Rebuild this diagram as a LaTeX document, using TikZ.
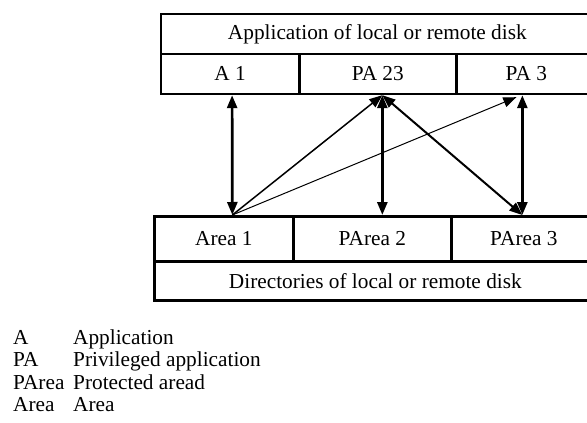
\documentclass[tikz,border=0pt]{standalone}
\usepackage{fontspec}
\setmainfont{Liberation Serif}
\usetikzlibrary{arrows.meta,calc}

\begin{document}
\begin{tikzpicture}[x=1pt,y=-1pt,
  cell/.style={draw,line width=2.7pt,anchor=north west,inner sep=0pt,
    minimum height=40pt,font=\fontsize{21.3}{25}\selectfont},
  leg/.style={anchor=base west,inner sep=0pt,font=\fontsize{21.3}{25}\selectfont},
  dbl/.style={{Triangle[length=13pt,width=10pt]}-{Triangle[length=13pt,width=10pt]},line width=2.7pt},
  arr/.style={-{Triangle[length=13pt,width=10pt]},line width=1.5pt}
]
\useasboundingbox (0,0) rectangle (587,423);

% application side
\node[cell,minimum width=433pt] (App) at (159.5,12.5) {Application of local or remote disk};
\node[cell,minimum width=138.5pt] (A1) at (159.5,52.5) {A 1};
\node[cell,minimum width=157pt] (PA23) at (298,52.5) {PA 23};
\node[cell,minimum width=140pt] (PA3) at (455,52.5) {PA 3};

% disk side
\node[cell,minimum width=139pt,minimum height=45pt] (Area1) at (153,215) {Area 1};
\node[cell,minimum width=158pt,minimum height=45pt] (PArea2) at (292,215) {PArea 2};
\node[cell,minimum width=145pt,minimum height=45pt] (PArea3) at (450,215) {PArea 3};
\node[cell,minimum width=442pt,minimum height=39pt] (Dir) at (153,260) {Directories of local or remote disk};

% ends of the connectors
\coordinate (a1) at ([xshift=2pt]A1.south);
\coordinate (pa23) at ([xshift=4.5pt]PA23.south);
\coordinate (pa3) at ([xshift=-4pt]PA3.south);
\coordinate (pa3l) at ([xshift=-10pt,yshift=-2pt]PA3.south);
\coordinate (ar1) at ([xshift=8.5pt]Area1.north);
\coordinate (par2) at ([xshift=10pt]PArea2.north);
\coordinate (par3) at ([xshift=-1.5pt]PArea3.north);

\draw[dbl] (ar1) -- (a1);
\draw[dbl] (par2) -- (pa23);
\draw[dbl] (par3) -- (pa3);
\draw[arr] (ar1) -- (pa23);
\draw[arr,line width=1pt] (ar1) -- (pa3l);
\draw[dbl,line width=2pt] (par3) -- (pa23);

% legend
\node[leg] (kA) at (13,344) {A};
\node[leg] (dA) at (73,344) {Application};
\node[leg] (kPA) at (13,366.5) {PA};
\node[leg] (dPA) at (73,366.5) {Privileged application};
\node[leg] (kPArea) at (13,389) {PArea};
\node[leg] (dPArea) at (73,389) {Protected aread};
\node[leg] (kArea) at (13,411.5) {Area};
\node[leg] (dArea) at (73,411.5) {Area};
\end{tikzpicture}
\end{document}
